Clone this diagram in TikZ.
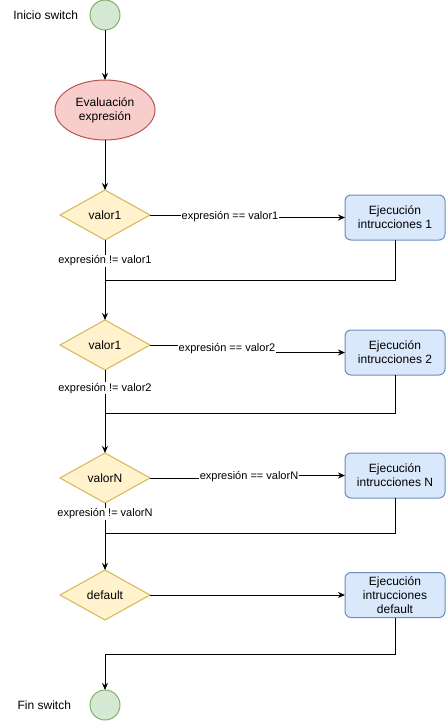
\documentclass[tikz,border=0pt]{standalone}
\usepackage{fontspec}
\setmainfont{Liberation Sans}
\usetikzlibrary{arrows.meta,positioning,shapes.geometric}

\definecolor{termfill}{HTML}{D5E8D4}
\definecolor{termdraw}{HTML}{82B366}
\definecolor{evalfill}{HTML}{F8CECC}
\definecolor{evaldraw}{HTML}{B85450}
\definecolor{condfill}{HTML}{FFF2CC}
\definecolor{conddraw}{HTML}{D6B656}
\definecolor{execfill}{HTML}{DAE8FC}
\definecolor{execdraw}{HTML}{6C8EBF}

\begin{document}
\begin{tikzpicture}[
    font=\fontsize{12}{14}\selectfont,
    line width=1pt,
    outer sep=0pt,
    term/.style={circle, draw=termdraw, fill=termfill, minimum size=30pt, inner sep=0pt},
    evalbox/.style={ellipse, draw=evaldraw, fill=evalfill, minimum width=100pt, minimum height=60pt, inner sep=0pt, align=center},
    cond/.style={diamond, draw=conddraw, fill=condfill, minimum width=90pt, minimum height=50pt, inner sep=0pt, aspect=1.8},
    exec/.style={draw=execdraw, fill=execfill, rounded corners=6pt, minimum width=100pt, minimum height=45pt, inner sep=2pt, align=center},
    lbl/.style={fill=white, inner sep=1pt, font=\fontsize{11}{13}\selectfont},
    txt/.style={inner sep=0pt},
    flow/.style={-{Stealth[length=7pt, width=6pt]}}
  ]
  \useasboundingbox (0,0) rectangle (446pt,-721pt);

  % Vertical flow
  \node[term] (start) at (105pt,-15pt) {};
  \node[txt, left=12pt of start] (startlbl) {Inicio switch};
  \node[evalbox, below=50pt of start] (eval) {Evaluación\\expresión};
  \node[cond, below=50pt of eval] (d1) {valor1};
  \node[cond, below=80pt of d1] (d2) {valor1};
  \node[cond, below=83pt of d2] (d3) {valorN};
  \node[cond, below=67pt of d3] (d4) {default};
  \node[term, below=70pt of d4] (fin) {};
  \node[txt, left=19pt of fin] (finlbl) {Fin switch};

  % Case blocks
  \node[exec, right=195pt of d1, yshift=-2.5pt] (b1) {Ejecución\\intrucciones 1};
  \node[exec, right=195pt of d2, yshift=-7.5pt] (b2) {Ejecución\\intrucciones 2};
  \node[exec, right=195pt of d3, yshift=2.5pt] (b3) {Ejecución\\intrucciones N};
  \node[exec, right=195pt of d4] (b4) {Ejecución\\intrucciones\\default};

  % Main flows
  \draw[flow] (start) -- (eval);
  \draw[flow] (eval) -- (d1.north);
  \draw[flow] (d1.south) -- node[lbl, pos=0.26] {expresión != valor1} coordinate[pos=0.5] (m1) (d2.north);
  \draw[flow] (d2.south) -- node[lbl, pos=0.22] {expresión != valor2} coordinate[pos=0.53] (m2) (d3.north);
  \draw[flow] (d3.south) -- node[lbl, pos=0.16] {expresión != valorN} coordinate[pos=0.46] (m3) (d4.north);
  \path (d4.south) -- coordinate[pos=0.49] (m4) (fin.north);

  % Matching cases
  \draw[flow] (d1.east) -- ++(80pt,0) |- node[lbl, pos=0.25] {expresión == valor1} (b1.west);
  \draw[flow] (d2.east) -- ++(77pt,0) |- node[lbl, pos=0.25] {expresión == valor2} (b2.west);
  \draw[flow] (d3.east) -- ++(99pt,0) |- node[lbl, pos=0.25] {expresión == valorN} (b3.west);
  \draw[flow] (d4.east) -- (b4.west);

  % Back to the main line
  \draw (b1.south) |- (m1);
  \draw (b2.south) |- (m2);
  \draw (b3.south) |- (m3);
  \draw[flow] (b4.south) |- (m4) -- (fin.north);

\end{tikzpicture}
\end{document}
